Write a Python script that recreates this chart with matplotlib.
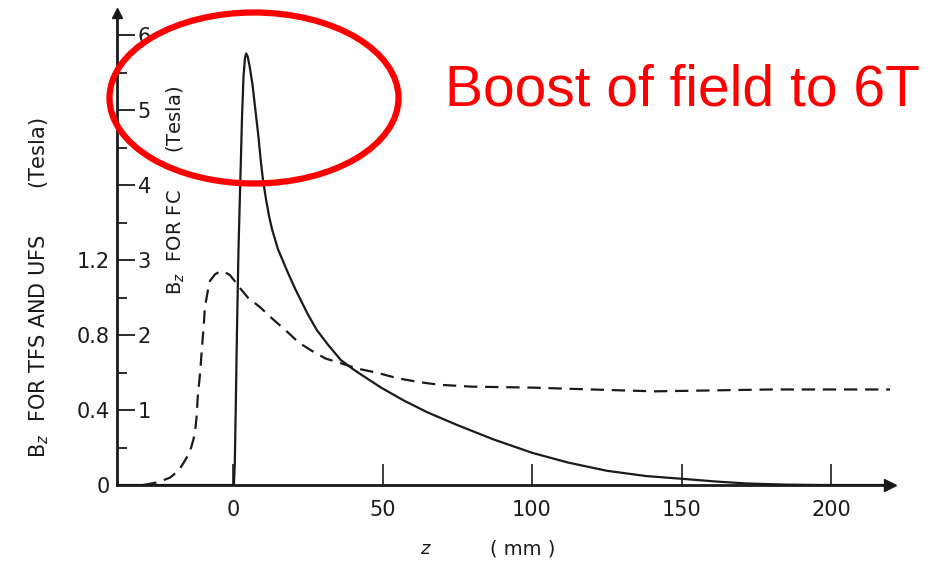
import matplotlib
matplotlib.use('Agg')
import matplotlib.pyplot as plt
from matplotlib.patches import Ellipse
from matplotlib.ticker import MultipleLocator

fc_z = [-39, 0.3, 0.6, 0.9, 1.3, 1.8, 2.4, 3.0, 3.5, 4.0, 4.4, 4.9, 5.5, 6.5, 7.5, 8.5,
        9.3, 10, 11, 12, 13, 15, 18.5, 21, 25, 28, 31.6, 36, 40, 43, 49.5, 57, 65,
        75, 87, 100, 112, 125, 138, 151, 162, 172, 185, 197, 220]
fc_b = [0, 0, 0.3, 1.0, 2.0, 3.1, 4.0, 4.9, 5.45, 5.7, 5.76, 5.72, 5.6, 5.35, 5.0, 4.65,
        4.32, 4.08, 3.82, 3.6, 3.42, 3.15, 2.82, 2.6, 2.28, 2.07, 1.88, 1.67, 1.55, 1.47,
        1.3, 1.13, 0.97, 0.8, 0.61, 0.43, 0.3, 0.19, 0.12, 0.08, 0.045, 0.02, 0.005, 0, 0]

# dashed curve: Bz for TFS and UFS (Tesla), left-hand scale
tfs_z = [-30, -25, -21, -18, -15.5, -14, -12.8, -12.2, -11.8, -11, -10.4, -9.8, -9.4,
         -8.5, -7.7, -6, -4.4, -2.5, -1, 0.5, 2.4, 5, 9, 13, 18, 22, 27, 31, 36, 42, 48,
         55, 62, 69, 80, 100, 120, 141, 160, 180, 220]
tfs_b = [0, 0.015, 0.04, 0.08, 0.146, 0.2, 0.27, 0.36, 0.47, 0.6, 0.73, 0.85, 0.95,
         1.03, 1.09, 1.125, 1.14, 1.135, 1.12, 1.09, 1.05, 1.0, 0.95, 0.89, 0.82, 0.76,
         0.71, 0.675, 0.65, 0.62, 0.6, 0.57, 0.55, 0.535, 0.525, 0.52, 0.51, 0.5, 0.505,
         0.51, 0.51]

x_ticks = [0, 50, 100, 150, 200]
fc_ticks = [1, 2, 3, 4, 5, 6]
tfs_ticks = [0, 0.4, 0.8, 1.2]

ink = '#1a1a1a'
fig = plt.figure(figsize=(9.35, 5.61), dpi=100)
ax = fig.add_axes([117/935, 76/561, 773/935, 472/561])
ax.set_xlim(-38.8, 219.7)
ax.set_ylim(0, 6.3)

# second scale for TFS/UFS on the left of the same spine
ax2 = ax.twinx()
ax2.set_ylim(0, 6.3 / 2.5)
for s in ax2.spines.values():
    s.set_visible(False)
ax2.yaxis.set_ticks_position('left')
ax2.set_yticks(tfs_ticks)
ax2.set_yticklabels(['0', '0.4', '0.8', '1.2'])
ax2.tick_params(axis='y', length=0, pad=5, labelsize=15, colors=ink)
ax2.plot(tfs_z, tfs_b, color=ink, lw=1.6, dashes=(6, 3.5))

ax.plot(fc_z, fc_b, color=ink, lw=1.6)

for s in ['top', 'left']:
    ax.spines[s].set_visible(False)
ax.spines['right'].set_position(('axes', 0))
ax.spines['right'].set_linewidth(2)
ax.spines['bottom'].set_linewidth(2)
ax.spines['right'].set_color(ink)
ax.spines['bottom'].set_color(ink)

ax.yaxis.tick_right()
ax.set_yticks(fc_ticks)
ax.set_yticklabels([str(t) for t in fc_ticks])
ax.yaxis.set_minor_locator(MultipleLocator(0.5))
ax.tick_params(axis='y', which='major', direction='out', length=13, width=1.3,
               pad=2, labelsize=15, colors=ink)
ax.tick_params(axis='y', which='minor', direction='out', length=7, width=1.3, colors=ink)

ax.set_xticks(x_ticks)
ax.tick_params(axis='x', direction='in', length=15, width=1.2, pad=11,
               labelsize=15, colors=ink)

# arrows at ends of axes
ax.plot(1, 0, '>', color=ink, ms=8, transform=ax.get_yaxis_transform(), clip_on=False)
ax.plot(ax.get_xlim()[0], 1, '^', color=ink, ms=7, transform=ax.get_xaxis_transform(),
        clip_on=False)

fig.text(39/935, 1 - 288/561, r'B$_z$  FOR TFS AND UFS       (Tesla)', rotation=90,
         ha='center', va='center', fontsize=15, color=ink)
fig.text(176/935, 1 - 190/561, r'B$_z$  FOR FC      (Tesla)', rotation=90,
         ha='center', va='center', fontsize=14, color=ink)
fig.text(425/935, 1 - 549/561, 'z', style='italic', ha='center', va='center',
         fontsize=13, color=ink)
fig.text(523/935, 1 - 549/561, '( mm )', ha='center', va='center', fontsize=14,
         color=ink)

fig.text(445/935, 1 - 106/561, 'Boost of field to 6T', color='#ff0000',
         fontsize=41, family='Liberation Sans', ha='left', va='baseline')

ell = Ellipse((254/935, 1 - 98/561), 289/935, 171/561, transform=fig.transFigure,
              fill=False, edgecolor='#ff0000', lw=4.5)
fig.patches.append(ell)

fig.savefig('out.png', dpi=100)
